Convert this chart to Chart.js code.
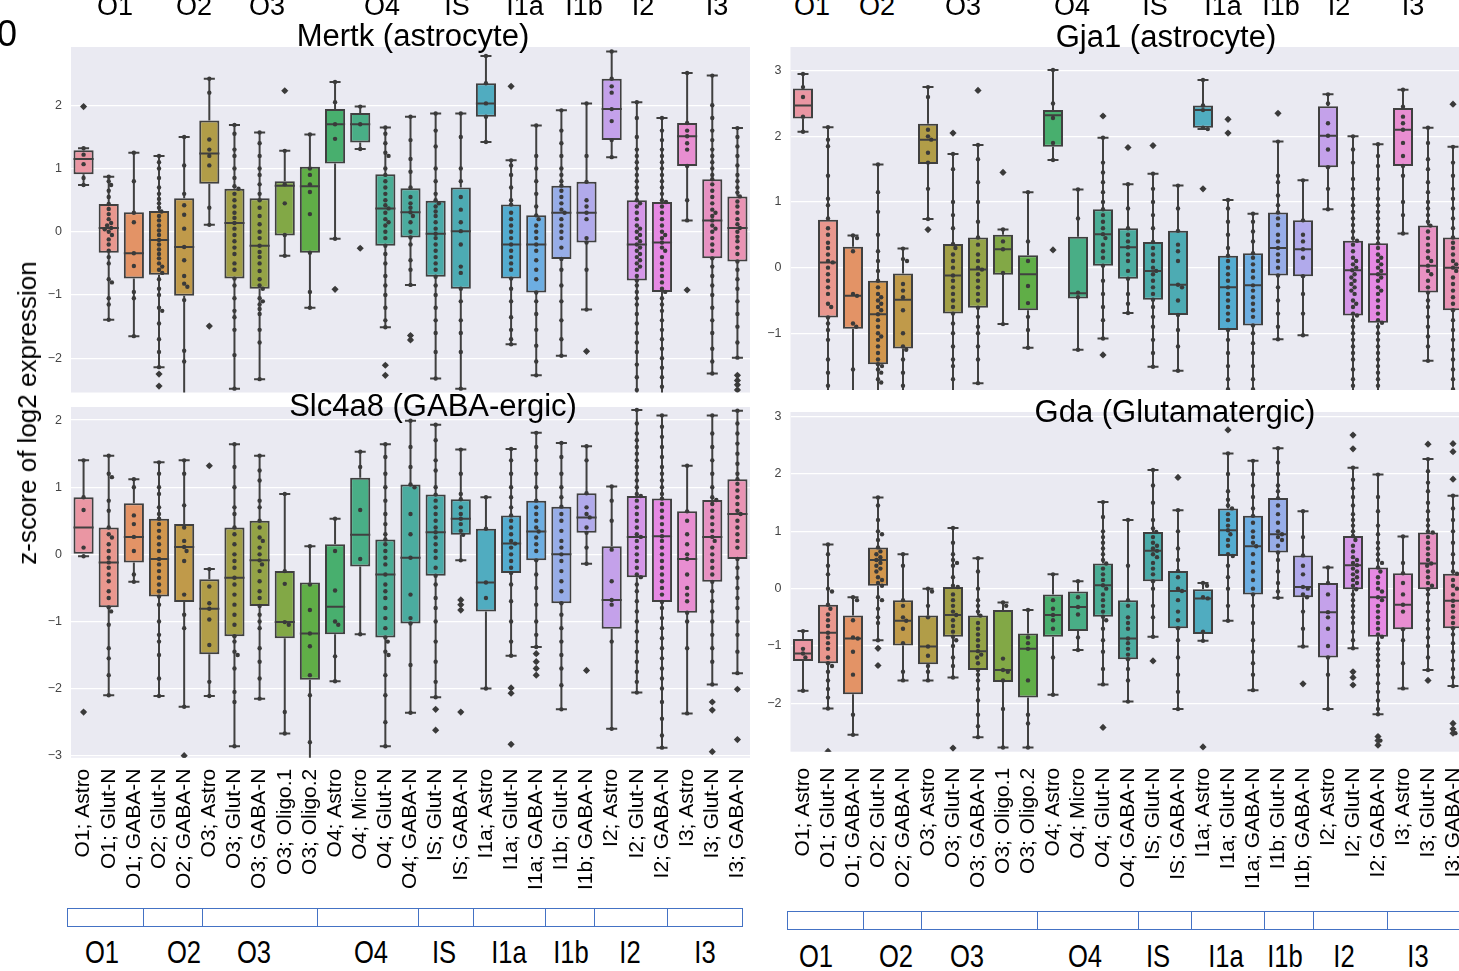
<!DOCTYPE html>
<html>
<head>
<meta charset="utf-8">
<script src="https://cdn.jsdelivr.net/npm/chart.js@4.4.1/dist/chart.umd.min.js"></script>
<style>
  html, body { margin: 0; padding: 0; background: #fff; }
  body { width: 1459px; height: 971px; overflow: hidden; position: relative;
         font-family: "Liberation Sans", Arial, sans-serif; color: #000; }
  canvas { position: absolute; }
  .t { position: absolute; white-space: nowrap; line-height: 1; }
  .cell { position: absolute; box-sizing: border-box; border: 1.4px solid #4472c4; background: #fff; }
</style>
</head>
<body>
<canvas id="pTL"></canvas>
<canvas id="pTR"></canvas>
<canvas id="pBL"></canvas>
<canvas id="pBR"></canvas>
<script>
// ---------- categories ----------
const CATEGORIES = ["O1; Astro","O1; Glut-N","O1; GABA-N","O2; Glut-N","O2; GABA-N","O3; Astro","O3; Glut-N",
  "O3; GABA-N","O3; Oligo.1","O3; Oligo.2","O4; Astro","O4; Micro","O4; Glut-N","O4; GABA-N","IS; Glut-N",
  "IS; GABA-N","I1a; Astro","I1a; Glut-N","I1a; GABA-N","I1b; Glut-N","I1b; GABA-N","I2; Astro","I2; Glut-N",
  "I2; GABA-N","I3; Astro","I3; Glut-N","I3; GABA-N"];
const REGIONS = ["O1","O2","O3","O4","IS","I1a","I1b","I2","I3"];

// ---------- Mertk (astrocyte): [whisker low, q1, median, q3, whisker high] ----------
const mertkBoxes = [[0.74,0.91,1.15,1.29,1.32],[-1.39,-0.33,0.06,0.44,0.87],[-1.65,-0.74,-0.34,0.31,1.25],
  [-2.14,-0.68,-0.13,0.33,1.2],[-2.7,-1.01,-0.24,0.53,1.5],[0.11,0.76,1.24,1.76,2.42],[-2.48,-0.74,0.14,0.68,1.69],
  [-2.33,-0.9,-0.22,0.53,1.57],[-0.38,-0.06,0.73,0.8,1.28],[-1.2,-0.33,0.72,1.03,1.54],[-0.11,1.08,1.7,1.94,2.37],
  [1.31,1.41,1.7,1.88,1.98],[-1.51,-0.22,0.37,0.91,1.65],[-0.84,-0.09,0.31,0.69,1.82],[-2.32,-0.71,-0.03,0.49,1.87],
  [-2.48,-0.9,0.01,0.7,1.87],[1.42,1.82,2.03,2.35,2.78],[-1.78,-0.74,-0.2,0.43,1.13],[-2.27,-0.96,-0.2,0.26,1.68],
  [-1.96,-0.43,0.3,0.73,1.92],[-1.23,-0.17,0.3,0.79,2.03],[1.18,1.45,1.94,2.42,2.85],[-2.7,-0.77,-0.2,0.5,2.05],
  [-2.7,-0.95,-0.17,0.47,1.8],[0.18,1.04,1.51,1.72,2.51],[-2.24,-0.42,0.18,0.83,2.47],[-1.99,-0.47,0.06,0.56,1.64]];
const mertkOutliers = [[1.98],[],[],[-2.25,-2.44],[],[-1.49],[],[],[2.23],[],[-0.91],[-0.26],[-2.11,-2.27],
  [-1.64,-1.71],[],[],[],[2.3],[],[],[-1.89],[],[],[],[-0.92],[],[-2.27,-2.35,-2.42,-2.5]];
const mertkPoints = [
  [1.98,1.32,1.22,1.07,0.85,0.74],
  [0.87,0.8,0.74,0.65,0.55,0.44,0.36,0.28,0.2,0.14,0.1,0.06,0.04,0,-0.05,-0.12,-0.2,-0.3,-0.4,-0.5,-0.75,-0.8,-1.05,-1.15,-1.39],
  [1.25,0.8,0.3,0.15,-0.34,-0.54,-0.95,-1.05,-1.65],
  [1.2,1.1,1,0.85,0.7,0.6,0.52,0.45,0.38,0.32,0.25,0.18,0.1,0.02,-0.05,-0.13,-0.2,-0.28,-0.35,-0.42,-0.5,-0.55,-0.6,-0.65,-0.75,-0.9,-1,-1.2,-1.25,-1.45,-1.7,-1.9,-2.14,-2.25,-2.44],
  [1.5,1.05,0.6,0.42,0.27,0.05,-0.24,-0.45,-0.7,-0.82,-0.87,-1.08,-1.88,-2.05],
  [2.42,2.2,1.46,1.3,1.2,1.05,0.38,0.11,-1.49],
  [1.69,1.55,1.3,1.2,1,0.85,0.72,0.68,0.6,0.5,0.4,0.3,0.22,0.14,0.05,-0.05,-0.15,-0.25,-0.35,-0.5,-0.6,-0.74,-0.85,-1.05,-1.25,-1.35,-1.55,-1.95,-2.48],
  [1.57,1.4,1.2,1,0.9,0.75,0.6,0.5,0.38,0.25,0.12,0,-0.1,-0.22,-0.32,-0.4,-0.5,-0.62,-0.75,-0.85,-0.9,-1.05,-1.1,-1.15,-1.22,-1.3,-1.55,-1.75,-2.33],
  [2.23,1.28,0.75,0.45,-0.05,-0.38],
  [1.54,1,0.9,0.75,0.63,0.28,-0.33,-0.95,-1.2],
  [2.37,2.05,1.7,1.47,-0.11,-0.91],
  [1.98,1.7,1.31,-0.26],
  [1.65,1.55,1.4,1.25,1.2,1,0.9,0.8,0.7,0.6,0.5,0.42,0.37,0.3,0.2,0.15,0.1,0,-0.1,-0.22,-0.35,-0.5,-0.7,-0.85,-1,-1.2,-1.4,-1.51,-2.11,-2.27],
  [1.82,1.45,1.15,0.95,0.7,0.55,0.45,0.38,0.31,0.25,0.15,0,-0.09,-0.2,-0.45,-0.6,-0.84,-1.64,-1.71],
  [1.87,1.6,1.35,1,0.8,0.6,0.5,0.45,0.4,0.32,0.25,0.15,0.05,-0.03,-0.1,-0.2,-0.3,-0.4,-0.5,-0.6,-0.71,-0.85,-1,-1.2,-1.4,-1.6,-1.9,-2.32],
  [1.87,1.5,1,0.8,0.55,0.35,0.15,0.01,-0.2,-0.55,-0.65,-0.9,-1.1,-1.4,-1.6,-1.9,-2.48],
  [2.78,2.35,2.03,1.82,1.42],
  [2.3,1.13,1.05,0.9,0.7,0.5,0.43,0.3,0.2,0.1,0,-0.1,-0.2,-0.3,-0.4,-0.5,-0.6,-0.74,-0.9,-1.1,-1.35,-1.55,-1.7,-1.78],
  [1.68,1.2,1,0.8,0.6,0.4,0.26,0.2,0.1,0,-0.1,-0.2,-0.3,-0.45,-0.6,-0.75,-0.96,-1.1,-1.3,-1.55,-1.8,-2.05,-2.27],
  [1.92,1.6,1.4,1.2,1,0.9,0.8,0.73,0.65,0.55,0.45,0.35,0.3,0.2,0.1,0,-0.1,-0.25,-0.43,-0.6,-0.85,-1.1,-1.4,-1.7,-1.96],
  [2.03,1.2,0.79,0.5,0.4,0.3,0.2,-0.1,-0.17,-0.6,-1.23,-1.89],
  [2.85,2.42,2.3,2.2,1.94,1.75,1.45,1.18],
  [2.05,1.8,1.5,1.3,1.2,1.1,1,0.9,0.8,0.7,0.6,0.5,0.45,0.4,0.3,0.2,0.1,0.05,0,-0.05,-0.1,-0.15,-0.2,-0.25,-0.3,-0.35,-0.4,-0.45,-0.5,-0.55,-0.6,-0.7,-0.77,-0.85,-0.95,-1.05,-1.15,-1.3,-1.45,-1.6,-1.75,-1.9,-2.1,-2.3,-2.5],
  [1.8,1.6,1.45,1.3,1.2,1.1,1,0.9,0.8,0.7,0.6,0.5,0.47,0.4,0.3,0.2,0.1,0,-0.05,-0.1,-0.17,-0.25,-0.3,-0.4,-0.5,-0.6,-0.7,-0.8,-0.9,-0.95,-1.05,-1.15,-1.25,-1.4,-1.55,-1.7,-1.85,-2,-2.15,-2.3,-2.45],
  [2.51,1.72,1.6,1.51,1.4,1.3,1.04,0.5,0.18,-0.92],
  [2.47,2,1.8,1.6,1.45,1.3,1.2,1.1,1,0.9,0.83,0.75,0.65,0.55,0.45,0.35,0.3,0.25,0.18,0.1,0.05,0,-0.1,-0.2,-0.3,-0.42,-0.55,-0.7,-0.85,-1,-1.2,-1.4,-1.6,-1.85,-2.05,-2.24],
  [1.64,1.5,1.35,1.2,1.05,0.9,0.8,0.7,0.62,0.56,0.48,0.4,0.3,0.2,0.12,0.06,0,-0.08,-0.15,-0.25,-0.35,-0.47,-0.6,-0.75,-0.9,-1.1,-1.3,-1.5,-1.75,-1.99,-2.27,-2.35,-2.42,-2.5]];

// ---------- Gja1 (astrocyte) ----------
const gja1Boxes = [[2.07,2.27,2.47,2.73,2.95],[-2.5,-0.76,0.08,0.73,2.14],[-2.5,-0.93,-0.43,0.32,0.49],
  [-2.5,-1.47,-0.71,-0.2,1.57],[-2.5,-1.23,-0.49,-0.09,0.29],[0.74,1.58,1.95,2.19,2.75],[-2.5,-0.7,-0.12,0.36,1.73],
  [-1.76,-0.61,-0.03,0.46,1.87],[-0.86,-0.11,0.28,0.5,0.58],[-1.22,-0.65,-0.1,0.19,1.15],[1.64,1.84,2.32,2.4,3.01],
  [-1.25,-0.47,-0.39,0.47,1.19],[-1.08,0.03,0.51,0.89,1.98],[-0.69,-0.17,0.31,0.6,1.27],[-1.51,-0.49,-0.05,0.39,1.43],
  [-1.57,-0.72,-0.26,0.56,1.25],[2.11,2.13,2.4,2.47,2.86],[-2.5,-0.95,-0.3,0.18,1.03],[-2.5,-0.88,-0.27,0.22,0.82],
  [-1.09,-0.12,0.3,0.84,1.92],[-1.03,-0.13,0.28,0.72,1.33],[0.89,1.53,2.01,2.46,2.64],[-2.5,-0.73,-0.04,0.41,2],
  [-2.5,-0.84,-0.1,0.37,1.88],[0.52,1.55,2.1,2.43,2.71],[-1.42,-0.38,0.03,0.64,2.13],[-2.5,-0.65,0,0.46,1.84]];
const gja1Outliers = [[],[],[],[],[],[0.58],[2.05],[2.7],[1.45],[],[0.27],[],[2.31,-1.33],[1.83],[1.86],[],[1.2],
  [2.26,2.05],[],[2.35],[],[],[],[],[],[],[2.49]];
const gja1Points = [
  [2.95,2.75,2.6,2.3,2.07],
  [2.14,1.95,1.85,1.4,1.05,0.95,0.75,0.6,0.5,0.38,0.3,0.2,0.1,0.08,0,-0.1,-0.2,-0.3,-0.4,-0.55,-0.6,-0.76,-0.85,-0.95,-1.1,-1.4,-1.6,-1.8],
  [0.49,0.45,0.25,-0.4,-0.43,-0.85,-0.9,-1.55,-2],
  [1.57,1.15,0.85,0.5,0.25,0.1,-0.05,-0.2,-0.3,-0.4,-0.45,-0.5,-0.55,-0.6,-0.65,-0.71,-0.8,-0.9,-1,-1.05,-1.1,-1.2,-1.3,-1.4,-1.47,-1.5,-1.55,-1.6,-1.7,-1.75],
  [0.29,0.13,0.1,-0.25,-0.35,-0.45,-0.65,-1,-1.2,-1.25,-1.4,-1.6,-1.8],
  [2.75,2.6,2.1,2,1.95,1.75,1.6,1.2,0.74,0.58],
  [2.05,1.73,1.5,1,0.8,0.6,0.36,0.3,0.2,0.1,0,-0.12,-0.2,-0.3,-0.4,-0.5,-0.6,-0.7,-0.85,-1,-1.2,-1.4,-1.5,-1.7],
  [2.7,1.87,1.65,1.3,1,0.7,0.46,0.35,0.2,0.1,0,-0.03,-0.1,-0.2,-0.3,-0.4,-0.5,-0.61,-0.75,-0.9,-1,-1.2,-1.4,-1.76],
  [1.45,0.58,0.4,0.28,-0.08,-0.86],
  [1.15,0.4,0.1,-0.28,-0.54,-0.75,-0.95,-1.22],
  [3.01,2.5,2.28,1.9,1.64,0.27],
  [1.19,0.75,-0.38,-0.45,-1.25],
  [2.31,1.98,1.6,1.45,1.3,1.15,1,0.89,0.8,0.7,0.6,0.51,0.45,0.35,0.25,0.15,0.03,-0.2,-0.4,-0.6,-0.8,-1.08,-1.33],
  [1.83,1.27,0.9,0.6,0.5,0.4,0.31,0.2,0.1,-0.05,-0.17,-0.4,-0.55,-0.69],
  [1.86,1.43,1.2,1,0.8,0.6,0.39,0.3,0.2,0.1,0,-0.05,-0.1,-0.2,-0.3,-0.4,-0.49,-0.6,-0.75,-0.9,-1.1,-1.3,-1.51],
  [1.25,0.9,0.56,0.35,0.25,0.1,-0.26,-0.3,-0.5,-0.72,-0.95,-1.2,-1.57],
  [2.86,2.47,2.4,2.13,2.11,1.2],
  [2.26,2.05,1.03,0.9,0.7,0.5,0.3,0.18,0.1,0,-0.1,-0.2,-0.3,-0.4,-0.5,-0.6,-0.7,-0.8,-0.95,-1.1,-1.3,-1.5,-1.7,-1.85],
  [0.82,0.7,0.55,0.4,0.22,0.15,0.05,-0.05,-0.15,-0.27,-0.35,-0.45,-0.55,-0.65,-0.75,-0.88,-1,-1.15,-1.3,-1.5,-1.7,-1.85],
  [2.35,1.92,1.4,1.3,1.1,0.95,0.84,0.75,0.65,0.5,0.4,0.3,0.2,0.1,0,-0.12,-0.3,-0.5,-0.7,-0.9,-1.09],
  [1.33,0.72,0.5,0.4,0.28,0.15,-0.13,-0.4,-0.7,-1.03],
  [2.64,2.5,2.2,2.01,1.8,1.53,1.2,0.89],
  [2,1.8,1.6,1.35,1.2,1.05,0.95,0.85,0.75,0.65,0.55,0.45,0.41,0.35,0.25,0.15,0.1,0.05,0,-0.04,-0.1,-0.15,-0.2,-0.25,-0.3,-0.35,-0.4,-0.5,-0.55,-0.6,-0.7,-0.73,-0.8,-0.9,-1,-1.1,-1.2,-1.3,-1.4,-1.55,-1.7,-1.8],
  [1.88,1.7,1.55,1.35,1.2,1.05,0.95,0.85,0.75,0.65,0.55,0.45,0.37,0.3,0.2,0.15,0.1,0.05,0,-0.05,-0.1,-0.15,-0.2,-0.3,-0.35,-0.4,-0.5,-0.6,-0.7,-0.8,-0.84,-0.9,-1,-1.1,-1.2,-1.3,-1.4,-1.5,-1.6,-1.7,-1.8],
  [2.71,2.45,2.3,2.2,2.1,1.9,1.7,1.55,1.4,1,0.8,0.52],
  [2.13,1.9,1.65,1.5,1.3,1.15,1,0.9,0.8,0.7,0.64,0.55,0.45,0.35,0.25,0.15,0.1,0.03,-0.05,-0.1,-0.2,-0.3,-0.38,-0.5,-0.6,-0.75,-0.9,-1.05,-1.2,-1.42],
  [2.49,1.84,1.6,1.4,1.2,1.05,0.9,0.75,0.6,0.46,0.38,0.3,0.2,0.1,0.05,0,-0.05,-0.15,-0.25,-0.35,-0.45,-0.55,-0.65,-0.8,-0.95,-1.1,-1.25,-1.4,-1.55,-1.7,-1.85]];

// ---------- Slc4a8 (GABA-ergic) ----------
const slc4a8Boxes = [[-0.03,0,0.4,0.85,1.4],[-2.1,-0.79,-0.12,0.4,1.47],[-0.41,-0.12,0.26,0.76,1.12],
  [-2.11,-0.63,-0.07,0.53,1.37],[-2.27,-0.71,0.11,0.45,1.4],[-2.11,-1.49,-0.81,-0.37,-0.22],[-2.86,-1.22,-0.35,0.4,1.64],
  [-2.15,-0.77,-0.09,0.5,1.47],[-2.67,-1.25,-1.01,-0.25,0.9],[-3.2,-1.87,-1.18,-0.42,0.12],[-1.89,-1.19,-0.78,0.15,0.53],
  [-1.19,-0.18,0.29,1.14,1.53],[-2.86,-1.24,-0.3,0.22,1.64],[-2.36,-1.03,-0.05,1.04,1.99],[-2.13,-0.32,0.33,0.89,1.93],
  [-0.09,0.29,0.53,0.82,1.56],[-2,-0.85,-0.42,0.38,0.85],[-1.51,-0.28,0.16,0.58,1.57],[-1.38,-0.09,0.34,0.8,1.81],
  [-2.31,-0.73,0,0.71,1.66],[-0.14,0.32,0.55,0.91,1.61],[-2.6,-1.11,-0.68,0.12,1.01],[-2.06,-0.34,0.26,0.87,2.15],
  [-2.88,-0.71,0.27,0.83,2.07],[-2.37,-0.87,-0.07,0.64,1.32],[-1.94,-0.41,0.26,0.81,2.07],[-1.77,-0.07,0.6,1.12,2.14]];
const slc4a8Outliers = [[-2.35],[],[],[],[-3],[1.32],[],[],[],[],[],[],[],[],[-2.31,-2.62],[-0.68,-0.75,-0.83,-2.35],[],
  [-1.99,-2.07,-2.83],[-1.48,-1.6,-1.7,-1.8],[],[-1.73],[],[],[],[],[-2.2,-2.32,-2.94],[-2.01,-2.76]];
const slc4a8Points = [
  [1.4,0.85,0.66,0.1,-0.03,-2.35],
  [1.47,1.2,1.15,0.8,0.65,0.4,0.3,0.25,0.15,0.05,-0.05,-0.12,-0.2,-0.3,-0.4,-0.55,-0.65,-0.79,-0.85,-1.05,-1.4,-1.55,-1.8,-2.1],
  [1.12,1,0.58,0.45,0.26,0.05,-0.3,-0.41],
  [1.37,1.2,1,0.9,0.7,0.6,0.53,0.45,0.35,0.25,0.15,0.05,-0.07,-0.15,-0.25,-0.35,-0.45,-0.55,-0.63,-0.75,-1,-1.2,-1.3,-1.5,-1.85,-2.11],
  [1.4,1.2,0.73,0.4,0.2,0.11,0.05,-0.1,-0.6,-0.9,-1.1,-2.27,-3],
  [1.32,-0.22,-0.48,-0.73,-0.81,-0.97,-1.35,-1.9,-2.11],
  [1.64,1.3,1,0.7,0.6,0.4,0.3,0.15,0,-0.1,-0.2,-0.35,-0.45,-0.6,-0.75,-0.9,-1.05,-1.22,-1.3,-1.45,-1.5,-1.7,-2.05,-2.2,-2.86],
  [1.47,1.25,1.1,0.8,0.7,0.5,0.4,0.25,0.2,0.1,0,-0.09,-0.15,-0.25,-0.4,-0.55,-0.65,-0.77,-0.9,-1,-1.1,-1.4,-1.6,-1.85,-2.15],
  [0.9,-0.25,-0.44,-1.01,-1.05,-2.35,-2.67],
  [0.12,-0.45,-0.83,-1.18,-1.37,-1.8,-2.1,-2.8],
  [0.53,0.05,-0.54,-1,-1.05,-1.52,-1.89],
  [1.53,1.3,0.66,-0.07,-1.19],
  [1.64,1.45,1.2,1,0.8,0.6,0.45,0.3,0.22,0.15,0.05,-0.05,-0.15,-0.3,-0.45,-0.55,-0.65,-0.8,-0.95,-1.1,-1.24,-1.3,-1.45,-1.5,-1.8,-2.1,-2.5,-2.86],
  [1.99,1.6,1.3,1.04,1,0.6,0.3,-0.05,-0.6,-0.95,-1.03,-1.65,-2.36],
  [1.93,1.7,1.4,1.25,1,0.89,0.8,0.7,0.6,0.5,0.4,0.33,0.25,0.15,0.05,-0.05,-0.2,-0.32,-0.45,-0.65,-0.8,-1,-1.3,-1.6,-1.9,-2.13,-2.31,-2.62],
  [1.56,1.2,0.9,0.82,0.7,0.6,0.53,0.45,0.35,0.29,-0.09,-0.68,-0.75,-0.83,-2.35],
  [0.85,0.38,-0.42,-0.65,-2],
  [1.57,1.4,1.2,1,0.85,0.7,0.58,0.5,0.4,0.3,0.2,0.16,0.1,0,-0.1,-0.2,-0.28,-0.45,-0.7,-1,-1.3,-1.51,-1.99,-2.07,-2.83],
  [1.81,1.6,1.4,1.2,1,0.8,0.7,0.6,0.5,0.4,0.34,0.25,0.15,0.05,-0.09,-0.3,-0.5,-0.75,-1,-1.2,-1.38,-1.48,-1.6,-1.7,-1.8],
  [1.66,1.45,1.2,1,0.85,0.71,0.6,0.5,0.35,0.2,0.1,0,-0.1,-0.25,-0.4,-0.55,-0.73,-0.9,-1.1,-1.3,-1.5,-1.7,-1.95,-2.31],
  [1.61,1.4,0.91,0.7,0.6,0.55,0.4,0.32,0.1,-0.14,-1.73],
  [1.01,0.8,0.5,0.07,-0.4,-0.68,-0.75,-1.3,-2.6],
  [2.15,1.95,1.8,1.7,1.6,1.5,1.4,1.3,1.2,1.1,1,0.9,0.87,0.8,0.7,0.6,0.5,0.4,0.3,0.26,0.2,0.1,0,-0.1,-0.2,-0.3,-0.34,-0.45,-0.55,-0.7,-0.85,-1,-1.15,-1.3,-1.45,-1.6,-1.75,-1.9,-2.06],
  [2.07,1.9,1.75,1.6,1.45,1.3,1.2,1.1,1,0.9,0.83,0.75,0.65,0.55,0.45,0.35,0.27,0.2,0.1,0,-0.1,-0.2,-0.3,-0.4,-0.5,-0.6,-0.71,-0.8,-0.95,-1.1,-1.25,-1.4,-1.55,-1.7,-1.85,-2,-2.2,-2.45,-2.7,-2.88],
  [1.32,0.64,0.5,0.3,0.15,0,-0.07,-0.3,-0.5,-0.6,-0.7,-0.87,-1,-1.4,-2.37],
  [2.07,1.8,1.6,1.4,1.2,1,0.85,0.81,0.75,0.65,0.55,0.45,0.35,0.26,0.2,0.1,0,-0.1,-0.2,-0.3,-0.41,-0.55,-0.7,-0.85,-1,-1.2,-1.4,-1.6,-1.94,-2.2,-2.32,-2.94],
  [2.14,1.95,1.8,1.65,1.5,1.35,1.2,1.12,1.05,0.95,0.85,0.75,0.65,0.6,0.5,0.4,0.3,0.2,0.1,-0.07,-0.2,-0.35,-0.5,-0.65,-0.8,-1,-1.2,-1.45,-1.77,-2.01,-2.76]];

// ---------- Gda (Glutamatergic) ----------
const gdaBoxes = [[-1.78,-1.26,-1.13,-0.88,-0.74],[-2.09,-1.3,-0.77,-0.28,0.77],[-2.55,-1.84,-0.87,-0.47,-0.15],
  [-0.9,0.05,0.5,0.72,1.59],[-1.6,-0.99,-0.56,-0.2,0.6],[-1.6,-1.32,-1.01,-0.47,0],[-1.55,-0.84,-0.46,0.03,1.06],
  [-2.59,-1.42,-1.09,-0.47,0.53],[-2.77,-1.63,-1.42,-0.37,-0.24],[-2.77,-1.9,-1.05,-0.78,-0.37],[-1.85,-0.84,-0.46,-0.1,0.25],
  [-1.07,-0.74,-0.32,-0.05,0.13],[-1.67,-0.49,0.06,0.44,1.51],[-1.97,-1.23,-0.87,-0.2,1.2],[-0.84,0.13,0.66,0.99,2.07],
  [-2.1,-0.69,-0.04,0.31,1.37],[-0.91,-0.79,-0.17,-0.01,0.1],[-0.56,0.57,1.02,1.4,2.36],[-1.77,-0.1,0.74,1.27,2.23],
  [-0.16,0.63,0.95,1.58,2.45],[-1.01,-0.15,0.03,0.58,1.35],[-2.1,-1.2,-0.41,0.1,0.37],[-1.04,-0.01,0.41,0.92,2.11],
  [-2.19,-0.84,-0.15,0.37,1.99],[-1.74,-0.71,-0.28,0.27,0.91],[-1.42,-0.01,0.44,0.98,2.26],[-1.7,-0.69,-0.21,0.26,1.62]];
const gdaOutliers = [[],[-2.84],[],[-1.04,-1.34],[],[],[-2.78],[],[],[],[],[],[-2.42],[],[-1.26],[1.94],[-2.76],[2.77],
  [],[],[-1.66],[],[2.68,2.44,-1.45,-1.55,-1.68],[-2.58,-2.65,-2.73],[],[2.52,-1.6],[2.53,2.39,1.91,-2.35,-2.45,-2.52]];
const gdaPoints = [
  [-0.74,-1.05,-1.13,-1.2,-1.78],
  [0.77,0.6,0.4,0.25,0,-0.05,-0.28,-0.35,-0.45,-0.55,-0.65,-0.77,-0.85,-0.95,-1.05,-1.2,-1.3,-1.35,-1.45,-1.6,-1.75,-1.9,-2.09,-2.84],
  [-0.15,-0.2,-0.55,-0.85,-0.87,-1.1,-1.5,-2.2,-2.55],
  [1.59,1.45,1.2,1,0.95,0.85,0.72,0.65,0.6,0.55,0.5,0.45,0.4,0.35,0.3,0.2,0.15,0.1,0.05,-0.15,-0.2,-0.35,-0.5,-0.6,-0.9,-1.04,-1.34],
  [0.6,0.4,-0.2,-0.3,-0.5,-0.56,-0.7,-0.95,-1.45,-1.6],
  [0,-0.05,-0.3,-0.5,-1.01,-1.17,-1.35,-1.45,-1.6],
  [1.06,0.8,0.6,0.5,0.45,0.4,0.2,0.05,0.03,-0.1,-0.2,-0.3,-0.4,-0.46,-0.55,-0.65,-0.75,-0.84,-0.9,-1,-1.2,-1.35,-1.55,-2.78],
  [0.53,0.3,0,-0.2,-0.3,-0.4,-0.47,-0.6,-0.7,-0.8,-0.9,-1,-1.09,-1.15,-1.2,-1.3,-1.42,-1.5,-1.6,-1.75,-1.95,-2.2,-2.4,-2.59],
  [-0.24,-0.3,-1.22,-1.42,-1.45,-1.6,-2.1,-2.77],
  [-0.37,-0.85,-0.95,-1.05,-1.6,-2.2,-2.35,-2.77],
  [0.25,-0.2,-0.35,-0.46,-0.55,-0.7,-1.2,-1.85],
  [0.13,-0.15,-0.32,-0.45,-0.85,-1.07],
  [1.51,1.25,1,0.9,0.8,0.7,0.6,0.5,0.44,0.35,0.25,0.15,0.06,0,-0.1,-0.2,-0.3,-0.4,-0.49,-0.55,-0.7,-0.9,-1.1,-1.4,-1.67,-2.42],
  [1.2,0.4,-0.2,-0.3,-0.5,-0.6,-0.7,-0.87,-0.95,-1.05,-1.15,-1.23,-1.4,-1.6,-1.97],
  [2.07,1.8,1.5,1.2,1.05,0.99,0.9,0.8,0.75,0.7,0.66,0.6,0.55,0.45,0.35,0.25,0.13,0,-0.3,-0.5,-0.84,-1.26],
  [1.94,1.37,1,0.7,0.5,0.31,0.2,0,-0.04,-0.2,-0.4,-0.55,-0.69,-0.9,-1.2,-1.5,-1.8,-2.1],
  [0.1,0.05,-0.15,-0.17,-0.75,-0.91,-2.76],
  [2.77,2.36,2,1.7,1.55,1.45,1.4,1.3,1.2,1.1,1.02,0.95,0.85,0.75,0.6,0.57,0.4,0.2,0,-0.3,-0.56],
  [2.23,2,1.8,1.6,1.4,1.27,1.15,1,0.9,0.8,0.74,0.6,0.45,0.3,0.15,0,-0.1,-0.3,-0.6,-0.9,-1.1,-1.3,-1.5,-1.77],
  [2.45,2.2,2,1.8,1.7,1.58,1.45,1.3,1.15,1,0.95,0.9,0.85,0.75,0.63,0.5,0.3,0.1,-0.05,-0.16],
  [1.35,0.9,0.58,0.4,0.25,0.03,0,-0.1,-0.15,-0.4,-0.7,-1.01,-1.66],
  [0.37,0.1,-0.1,-0.41,-0.5,-0.7,-1,-1.2,-1.5,-2.1],
  [2.68,2.44,2.11,1.9,1.75,1.6,1.45,1.3,1.2,1.1,1,0.92,0.85,0.75,0.65,0.55,0.5,0.45,0.41,0.35,0.3,0.25,0.2,0.15,0.1,0.05,-0.01,-0.1,-0.2,-0.3,-0.4,-0.5,-0.6,-0.75,-0.9,-1.04,-1.45,-1.55,-1.68],
  [1.99,1.6,1.35,1.1,0.95,0.8,0.7,0.6,0.5,0.45,0.37,0.3,0.2,0.1,0,-0.05,-0.15,-0.2,-0.3,-0.4,-0.5,-0.6,-0.7,-0.8,-0.84,-0.95,-1.05,-1.15,-1.25,-1.35,-1.5,-1.65,-1.8,-1.95,-2.1,-2.19,-2.58,-2.65,-2.73],
  [0.91,0.45,0.27,0.1,-0.1,-0.28,-0.4,-0.71,-0.9,-1.3,-1.74],
  [2.52,2.26,2.05,1.85,1.7,1.5,1.35,1.2,1.1,1,0.98,0.9,0.8,0.7,0.6,0.5,0.44,0.4,0.3,0.2,0.1,0.05,-0.01,-0.1,-0.25,-0.4,-0.55,-0.7,-0.85,-1,-1.2,-1.42,-1.6],
  [2.53,2.39,1.91,1.62,1.4,1.2,1,0.8,0.6,0.45,0.3,0.26,0.15,0.05,0,-0.1,-0.21,-0.3,-0.4,-0.5,-0.6,-0.69,-0.8,-0.95,-1.1,-1.25,-1.4,-1.55,-1.7,-2.35,-2.45,-2.52]];

// ---------- styling ----------
const PANEL_BG = '#eaeaf2';
const LINE = '#404040';
const DOT = '#3a3a3a';
const FONT = '"Liberation Sans", Arial, sans-serif';

// husl -> rgb (same conversion seaborn uses for its husl palette)
function huslToRgb(h, s, l) {
  const M = [[3.2406,-1.5372,-0.4986],[-0.9689,1.8758,0.0415],[0.0557,-0.2040,1.0570]];
  const refU = 0.19784, refV = 0.46834, kappa = 903.2962962, eps = 0.0088564516;
  const hr = h / 360 * 2 * Math.PI, sinH = Math.sin(hr), cosH = Math.cos(hr);
  let C = 0;
  if (l < 99.9999 && l > 0.00001) {
    const sub1 = Math.pow(l + 16, 3) / 1560896, sub2 = sub1 > eps ? sub1 : l / kappa;
    let res = Infinity;
    for (const [m1, m2, m3] of M) {
      const top = (0.99915 * m1 + 1.05122 * m2 + 1.14460 * m3) * sub2;
      const rb = 0.86330 * m3 - 0.17266 * m2, lb = 0.12949 * m3 - 0.38848 * m1;
      const bottom = (rb * sinH + lb * cosH) * sub2;
      for (const t of [0, 1]) {
        const c = l * (top - 1.05122 * t) / (bottom + 0.17266 * sinH * t);
        if (c > 0 && c < res) res = c;
      }
    }
    C = res / 100 * s;
  }
  const U = Math.cos(hr) * C, V = Math.sin(hr) * C;
  const t = (l + 16) / 116, t3 = t * t * t;
  const Y = t3 > eps ? t3 : (116 * t - 16) / kappa;
  const vu = U / (13 * l) + refU, vv = V / (13 * l) + refV;
  const X = -(9 * Y * vu) / ((vu - 4) * vv - vu * vv);
  const Z = (9 * Y - 15 * vv * Y - vv * X) / (3 * vv);
  return M.map(r => {
    const c = r[0] * X + r[1] * Y + r[2] * Z;
    const v = c <= 0.0031308 ? 12.92 * c : 1.055 * Math.pow(c, 1 / 2.4) - 0.055;
    return Math.min(1, Math.max(0, v));
  });
}
function rgbToHls(r, g, b) {
  const mx = Math.max(r, g, b), mn = Math.min(r, g, b), l = (mx + mn) / 2;
  if (mx === mn) return [0, l, 0];
  const s = l <= 0.5 ? (mx - mn) / (mx + mn) : (mx - mn) / (2 - mx - mn);
  const rc = (mx - r) / (mx - mn), gc = (mx - g) / (mx - mn), bc = (mx - b) / (mx - mn);
  let h = r === mx ? bc - gc : g === mx ? 2 + rc - bc : 4 + gc - rc;
  h = ((h / 6) % 1 + 1) % 1;
  return [h, l, s];
}
function hlsToRgb(h, l, s) {
  if (s === 0) return [l, l, l];
  const m2 = l <= 0.5 ? l * (1 + s) : l + s - l * s, m1 = 2 * l - m2;
  const v = hue => { hue = ((hue % 1) + 1) % 1;
    if (hue < 1 / 6) return m1 + (m2 - m1) * hue * 6;
    if (hue < 0.5) return m2;
    if (hue < 2 / 3) return m1 + (m2 - m1) * (2 / 3 - hue) * 6;
    return m1; };
  return [v(h + 1 / 3), v(h), v(h - 1 / 3)];
}
function boxPalette(n) {
  const out = [];
  for (let i = 0; i < n; i++) {
    const hue = ((i / n + 0.01) % 1) * 359;
    const rgb = huslToRgb(hue, 0.9 * 99, 0.7 * 99);
    const [h, l, s] = rgbToHls(...rgb);
    const d = hlsToRgb(h, l, s * 0.75);
    out.push('#' + d.map(c => Math.round(c * 255).toString(16).padStart(2, '0')).join(''));
  }
  return out;
}
const COLORS = boxPalette(CATEGORIES.length);

// beeswarm offsets (pixels) so dots of one group don't overlap
function swarm(vals, pxY, d) {
  const placed = [];
  return vals.map(v => {
    const py = v * pxY;
    let dx = 0;
    for (let k = 0; k <= 24; k++) {
      const cand = k === 0 ? 0 : (k % 2 ? 1 : -1) * Math.ceil(k / 2) * 0.8;
      if (placed.every(p => (p.x - cand) ** 2 + (p.y - py) ** 2 >= d * d)) { dx = cand; break; }
    }
    placed.push({ x: dx, y: py });
    return dx;
  });
}

// box whiskers, caps, medians and the panel background
function boxPartsPlugin(boxes) {
  return {
    id: 'boxParts',
    beforeDraw(chart) {
      const { ctx, chartArea: a } = chart;
      ctx.save();
      ctx.fillStyle = PANEL_BG;
      ctx.fillRect(a.left, a.top, a.right - a.left, a.bottom - a.top);
      ctx.restore();
    },
    beforeDatasetsDraw(chart) {
      const { ctx, chartArea: a, scales: { x, y } } = chart;
      const cw = x.getPixelForValue(1) - x.getPixelForValue(0);
      ctx.save();
      ctx.beginPath(); ctx.rect(a.left, a.top, a.right - a.left, a.bottom - a.top); ctx.clip();
      ctx.strokeStyle = LINE; ctx.lineWidth = 2;
      boxes.forEach((b, i) => {
        const cx = x.getPixelForValue(i);
        const lo = y.getPixelForValue(b[0]), q1 = y.getPixelForValue(b[1]);
        const q3 = y.getPixelForValue(b[3]), hi = y.getPixelForValue(b[4]);
        const cap = cw * 0.22;
        ctx.beginPath();
        ctx.moveTo(cx, q3); ctx.lineTo(cx, hi);
        ctx.moveTo(cx, q1); ctx.lineTo(cx, lo);
        ctx.moveTo(cx - cap, hi); ctx.lineTo(cx + cap, hi);
        ctx.moveTo(cx - cap, lo); ctx.lineTo(cx + cap, lo);
        ctx.stroke();
      });
      ctx.restore();
    },
    afterDatasetDraw(chart, args) {
      if (args.index !== 0) return;
      const { ctx, chartArea: a, scales: { x, y } } = chart;
      const cw = x.getPixelForValue(1) - x.getPixelForValue(0);
      ctx.save();
      ctx.beginPath(); ctx.rect(a.left, a.top, a.right - a.left, a.bottom - a.top); ctx.clip();
      ctx.strokeStyle = LINE; ctx.lineWidth = 2;
      boxes.forEach((b, i) => {
        const cx = x.getPixelForValue(i), m = y.getPixelForValue(b[2]);
        ctx.beginPath(); ctx.moveTo(cx - cw * 0.4, m); ctx.lineTo(cx + cw * 0.4, m); ctx.stroke();
      });
      ctx.restore();
    }
  };
}

const PANELS = [
  { id: 'pTL', boxes: mertkBoxes, outliers: mertkOutliers, points: mertkPoints,
    area: { left: 71, top: 47, right: 750, bottom: 392.5 }, canvasLeft: 0,
    range: [-2.541, 2.922], ticks: [-2, -1, 0, 1, 2], showX: false },
  { id: 'pTR', boxes: gja1Boxes, outliers: gja1Outliers, points: gja1Points,
    area: { left: 790.5, top: 47, right: 1465.5, bottom: 390 }, canvasLeft: 755,
    range: [-1.864, 3.361], ticks: [-1, 0, 1, 2, 3], showX: false },
  { id: 'pBL', boxes: slc4a8Boxes, outliers: slc4a8Outliers, points: slc4a8Points,
    area: { left: 71, top: 407, right: 750, bottom: 757.7 }, canvasLeft: 0,
    range: [-3.03, 2.195], ticks: [-3, -2, -1, 0, 1, 2], showX: true, labelPad: 11 },
  { id: 'pBR', boxes: gdaBoxes, outliers: gdaOutliers, points: gdaPoints,
    area: { left: 790.5, top: 412, right: 1465.5, bottom: 751.7 }, canvasLeft: 755,
    range: [-2.844, 3.082], ticks: [-2, -1, 0, 1, 2, 3], showX: true, labelPad: 16 }
];

PANELS.forEach(p => {
  const a = p.area;
  const padT = 20;
  const chartH = a.bottom - a.top;
  const H = Math.ceil(padT + chartH + (p.showX ? 150 : 20));
  const W = Math.ceil(a.right - p.canvasLeft + 30);
  const bottomSpace = H - padT - chartH;
  const cv = document.getElementById(p.id);
  cv.width = W; cv.height = H;
  Object.assign(cv.style, { left: p.canvasLeft + 'px', top: (a.top - padT) + 'px', width: W + 'px', height: H + 'px' });

  const n = CATEGORIES.length;
  const pxY = chartH / (p.range[1] - p.range[0]);
  const pxX = (a.right - a.left) / n;
  const dots = [];
  p.points.forEach((vals, i) => {
    const off = swarm(vals, pxY, 4.4);
    vals.forEach((v, j) => dots.push({ x: i + off[j] / pxX, y: v }));
  });
  const fliers = [];
  p.outliers.forEach((vals, i) => vals.forEach(v => fliers.push({ x: i, y: v })));

  new Chart(cv.getContext('2d'), {
    type: 'bar',
    data: {
      datasets: [
        { type: 'bar', data: p.boxes.map((b, i) => ({ x: i, y: [b[1], b[3]] })),
          backgroundColor: COLORS, borderColor: LINE, borderWidth: 2, borderSkipped: false,
          barPercentage: 0.8, categoryPercentage: 1, order: 3 },
        { type: 'scatter', data: fliers, pointStyle: 'rectRot', pointRadius: 3.6,
          backgroundColor: LINE, borderWidth: 0, order: 2 },
        { type: 'scatter', data: dots, pointRadius: 2.2, backgroundColor: DOT, borderWidth: 0, order: 1 }
      ]
    },
    options: {
      responsive: false, animation: false, devicePixelRatio: 1, events: [],
      layout: { padding: { top: padT, right: W - (a.right - p.canvasLeft), left: 0, bottom: p.showX ? 0 : bottomSpace } },
      plugins: { legend: { display: false }, tooltip: { enabled: false } },
      scales: {
        x: {
          type: 'linear', min: -0.5, max: n - 0.5, offset: false, display: p.showX,
          afterBuildTicks: s => { s.ticks = CATEGORIES.map((_, i) => ({ value: i })); },
          afterFit: s => { s.height = p.showX ? bottomSpace : 0; },
          grid: { display: false, drawTicks: false }, border: { display: false },
          ticks: { autoSkip: false, minRotation: 90, maxRotation: 90, padding: p.labelPad || 10,
                   color: '#000', font: { family: FONT, size: 21 },
                   callback: (v, i) => CATEGORIES[i] }
        },
        y: {
          type: 'linear', min: p.range[0], max: p.range[1],
          afterBuildTicks: s => { s.ticks = p.ticks.map(v => ({ value: v })); },
          afterFit: s => { s.width = a.left - p.canvasLeft; },
          grid: { color: '#ffffff', lineWidth: 1.3, drawTicks: false }, border: { display: false },
          ticks: { padding: 9, color: '#444', font: { family: FONT, size: 12.5 },
                   callback: v => v < 0 ? '\u2212' + Math.abs(v) : String(v) }
        }
      }
    },
    plugins: [boxPartsPlugin(p.boxes)]
  });
});

// ---------- text and the region key ----------
function addText(str, x, baseline, size, centered = true, squeeze = 1) {
  const d = document.createElement('div');
  d.className = 't';
  d.textContent = str;
  const tf = (centered ? 'translateX(-50%)' : '') + (squeeze !== 1 ? ' scaleX(' + squeeze + ')' : '');
  Object.assign(d.style, { left: x + 'px', top: (baseline - 0.8465 * size) + 'px', fontSize: size + 'px',
    fontFamily: FONT, transform: tf || 'none', zIndex: 5 });
  document.body.appendChild(d);
  return d;
}
// panel titles
addText('Mertk (astrocyte)', 413, 46.7, 31);
addText('Gja1 (astrocyte)', 1166, 47.5, 31);
addText('Slc4a8 (GABA-ergic)', 433, 416.7, 31);
addText('Gda (Glutamatergic)', 1175, 422.3, 31);
// panel letter at the top-left corner
addText('0', -3, 46.7, 36, false);
// region names along the top edge
const topLeftX = [115, 194, 267, 382, 457, 525, 584, 643, 717];
const topRightX = [812, 877, 963, 1072, 1155, 1223, 1281, 1339, 1413];
REGIONS.forEach((r, i) => { addText(r, topLeftX[i], 15.5, 27); addText(r, topRightX[i], 15.5, 27); });
// y-axis title
const yt = document.createElement('div');
yt.className = 't';
yt.textContent = 'z-score of log2 expression';
Object.assign(yt.style, { left: '27px', top: '413px', fontSize: '26px', fontFamily: FONT,
  transform: 'translate(-50%, -50%) rotate(-90deg)', zIndex: 5 });
document.body.appendChild(yt);
// region key rows under the category labels
const keyLeft = [67, 143, 202, 317, 418, 473, 545, 594, 667, 742];
const keyRight = [786.5, 862.5, 920.5, 1036.5, 1138, 1191, 1264, 1313, 1386.5, 1462];
function keyRow(edges, top) {
  for (let i = 0; i < edges.length - 1; i++) {
    const c = document.createElement('div');
    c.className = 'cell';
    Object.assign(c.style, { left: edges[i] + 'px', top: top + 'px', width: (edges[i + 1] - edges[i] + 1.4) + 'px', height: '18.5px' });
    document.body.appendChild(c);
  }
}
keyRow(keyLeft, 908);
keyRow(keyRight, 911);
const keyLabelLeft = [102, 184, 254, 371, 444, 509, 571, 630, 705];
const keyLabelRight = [816, 896, 967, 1085, 1158, 1226, 1285, 1344, 1418];
REGIONS.forEach((r, i) => { addText(r, keyLabelLeft[i], 963, 32, true, 0.8); addText(r, keyLabelRight[i], 967, 32, true, 0.8); });
</script>
</body>
</html>
